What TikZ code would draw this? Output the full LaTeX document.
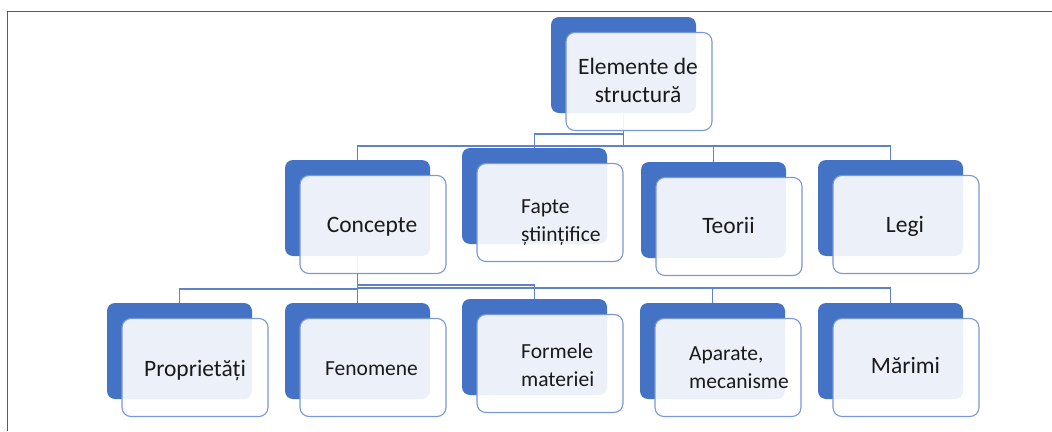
\documentclass[tikz,border=0pt]{standalone}
\usepackage{fontspec}
\setmainfont{Carlito}
\definecolor{dkblue}{RGB}{68,114,196}
\definecolor{outl}{RGB}{120,152,214}
\definecolor{connc}{RGB}{96,130,200}
\definecolor{txt}{RGB}{26,26,26}
\definecolor{borderred}{RGB}{237,28,36}
\pgfdeclarelayer{bg}
\pgfdeclarelayer{conns}
\pgfsetlayers{bg,conns,main}
\newcommand\cln[1]{\hbox to 0pt{\hss#1\hss}}
\newcommand\lln[1]{\hbox{#1}}
\newcommand\smbox[3]{%
  \node[backbox] (#1B) at (#2,#3) {};
  \node[frontbox] (#1F) at (#2+15,#3+15.5) {};
}
\begin{document}
\begin{tikzpicture}[x=1pt,y=-1pt,
  backbox/.style={draw=none, fill=dkblue, rounded corners=8pt, minimum width=145pt, minimum height=96pt, inner sep=0pt, outer sep=0pt, anchor=north west},
  frontbox/.style={draw=outl, line width=1.1pt, fill=white, fill opacity=0.9, rounded corners=9pt, minimum width=146pt, minimum height=98pt, inner sep=0pt, outer sep=0pt, anchor=north west},
  link/.style={draw=connc, line width=1.2pt},
  bigtxt/.style={font=\fontsize{23.5}{28}\selectfont, text=txt, inner sep=0pt},
  smalltxt/.style={font=\fontsize{21.5}{28.5}\selectfont, text=txt, inner sep=0pt},
]
\begin{pgfonlayer}{bg}
\fill[white] (0,0) rectangle (1052,431);
\fill[borderred] (6.8,11) rectangle (8.4,431);
\fill[borderred] (6.8,10.8) rectangle (1052,12.4);
\end{pgfonlayer}
\useasboundingbox (0,0) rectangle (1052,431);

\smbox{top}{551}{17}
\smbox{con}{285}{160}
\smbox{fap}{462}{148}
\smbox{teo}{641}{162}
\smbox{leg}{818}{160}
\smbox{pro}{107}{303}
\smbox{fen}{285}{303}
\smbox{for}{462}{299}
\smbox{apa}{640}{303}
\smbox{mar}{818}{303}

\begin{pgfonlayer}{conns}
\draw[link] (conB.north) -- ++(0,-14) -| (topB.south);
\draw[link] (fapB.north) -- ++(0,-14) -| (topB.south);
\draw[link] (teoB.north) -- ++(0,-16) -| (topB.south);
\draw[link] (legB.north) -- ++(0,-14) -| (topB.south);
\draw[link] (proB.north) -- ++(0,-14) -| (conB.south);
\draw[link] (fenB.north) -- (conB.south);
\draw[link] (forB.north) -- ++(0,-14) -| (conB.south);
\draw[link] (apaB.north) -- ++(0,-15) -| (conB.south);
\draw[link] (marB.north) -- ++(0,-15) -| (conB.south);
\end{pgfonlayer}

\node[bigtxt, anchor=base] (tTop) at (638,74) {\vtop{\cln{Elemente de}\cln{structură}}};
\node[bigtxt, anchor=base] (tCon) at (372,232) {Concepte};
\node[smalltxt, anchor=base west] (tFap) at (521,213.3) {\vtop{\lln{Fapte}\lln{științifice}}};
\node[bigtxt, anchor=base] (tTeo) at (728.5,233) {Teorii};
\node[bigtxt, anchor=base] (tLeg) at (905,232) {Legi};
\node[bigtxt, anchor=base] (tPro) at (195,376) {Proprietăți};
\node[smalltxt, anchor=base] (tFen) at (371.5,375) {Fenomene};
\node[smalltxt, anchor=base west] (tFor) at (521,358.3) {\vtop{\lln{Formele}\lln{materiei}}};
\node[smalltxt, anchor=base west] (tApa) at (689,360) {\vtop{\lln{Aparate,}\lln{mecanisme}}};
\node[bigtxt, anchor=base] (tMar) at (905.5,373) {Mărimi};
\end{tikzpicture}
\end{document}
